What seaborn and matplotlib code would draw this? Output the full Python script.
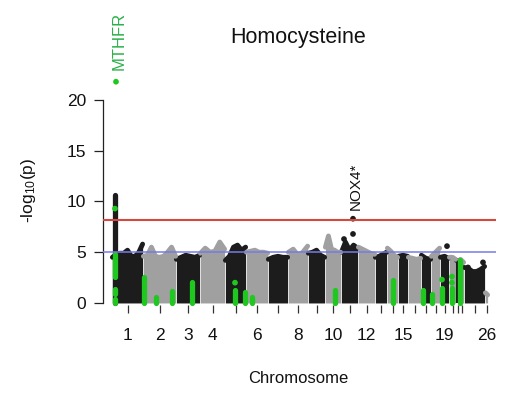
import numpy as np
import pandas as pd
import matplotlib
matplotlib.use('Agg')
import matplotlib.pyplot as plt
import seaborn as sns

# chromosomes (plink coding, 24 and 25 not present) and their relative lengths
chroms = ['1', '2', '3', '4', '5', '6', '7', '8', '9', '10', '11', '12', '13',
          '14', '15', '16', '17', '18', '19', '20', '21', '22', '23', '26']
chrom_len = [31, 33, 24, 25, 21, 22, 20, 20, 17, 16, 17, 17, 12,
             11, 10, 13, 10, 9, 9, 7, 4, 4, 21, 3]
shown_labels = ['1', '2', '3', '4', '6', '8', '10', '12', '15', '19', '26']

# upper edge of the dense SNP cloud, -log10(p), spread evenly along each chromosome
cloud_top = [
    [4.5, 4.8, 4.9, 4.9, 5.2, 4.6, 4.6, 5.0, 5.8],   # 1
    [4.6, 4.7, 5.5, 4.6, 4.5, 4.6, 5.0, 5.5, 4.6],   # 2
    [4.3, 4.5, 4.7, 4.6, 4.5, 4.7],                  # 3
    [4.9, 5.4, 5.0, 5.1, 6.0, 5.3],                  # 4
    [4.2, 4.6, 5.5, 5.7, 5.2, 5.5],                  # 5
    [5.0, 5.1, 5.2, 5.0, 5.0, 4.9],                  # 6
    [4.3, 4.5, 4.6, 4.5, 4.5],                       # 7
    [5.0, 5.3, 4.7, 5.0, 5.6],                       # 8
    [4.9, 5.0, 5.2, 4.7, 4.5],                       # 9
    [5.5, 6.6, 5.3, 5.2, 5.0, 5.0],                  # 10
    [5.0, 6.0, 5.2, 5.7, 5.4],                       # 11
    [5.5, 5.3, 5.1, 4.9, 4.8],                       # 12
    [4.5, 4.6, 4.8, 5.0],                            # 13
    [5.4, 5.1, 4.7, 4.5],                            # 14
    [4.6, 4.7, 4.6],                                 # 15
    [4.5, 4.4, 4.3, 4.4],                            # 16
    [4.7, 4.4, 4.3],                                 # 17
    [4.6, 5.0, 5.4],                                 # 18
    [4.5, 4.6, 4.4],                                 # 19
    [4.5, 4.5, 4.3],                                 # 20
    [4.2, 4.2],                                      # 21
    [4.3, 4.0],                                      # 22
    [3.5, 3.4, 3.1, 3.1, 3.3, 3.6],                  # 23
    [1.0, 0.8],                                      # 26
]

# stacked columns of SNPs (chromosome, offset in chromosome, from, to)
col_chr = ['1', '1', '1', '1', '2', '2', '2', '3', '5', '5', '6', '10', '14', '17', '18', '19', '20', '22']
col_off = [3, 3, 3, 3, 0.5, 13, 29, 16, 10, 20, 6, 10, 6, 2, 0.5, 2, 3, 0.2]
col_lo = [0.0, 2.6, 0.9, 0.0, 0, 0, 0, 0, 0, 0, 0, 0, 0, 0, 0, 0, 0, 0]
col_hi = [10.6, 4.8, 1.4, 0.4, 2.6, 0.6, 1.2, 2.1, 1.3, 1.1, 0.6, 1.3, 2.3, 1.3, 0.9, 1.5, 1.5, 4.2]
col_known = [False] + [True] * 17

# single SNPs standing out
dot_chr = ['1', '1', '5', '19', '20', '20', '11', '11', '11', '19', '23', '23']
dot_off = [4, 3, 10, 2, 3, 3, 3, 12, 12, 7, 4, 19]
dot_logp = [21.8, 9.3, 2.0, 2.3, 2.0, 2.6, 6.3, 6.8, 8.3, 5.6, 3.5, 4.0]
dot_known = [True] * 6 + [False] * 6

gene_labels = ['MTHFR', 'NOX4*']
gene_chr = ['1', '11']
gene_off = [4, 12]
gene_logp = [21.8, 8.3]

genome_wide = 8.2
suggestive = 5.0

sns.set_theme(style='ticks')
plt.rcParams['font.family'] = ['Liberation Sans', 'DejaVu Sans']
plt.rcParams['mathtext.default'] = 'regular'
plt.rcParams['text.color'] = '#111111'
plt.rcParams['xtick.labelcolor'] = '#111111'
plt.rcParams['ytick.labelcolor'] = '#111111'

dark, light, green = '#1c1c1c', '#a0a0a0', '#1fc81f'

chrom_start = np.concatenate([[0], np.cumsum(chrom_len)[:-1]])
start = dict(zip(chroms, chrom_start))
mids = chrom_start + np.array(chrom_len) / 2

rows = []
for i, c in enumerate(chroms):
    tops = cloud_top[i]
    xs = np.linspace(chrom_start[i] + 0.4, chrom_start[i] + chrom_len[i] - 0.4, len(tops))
    for x, t in zip(xs, tops):
        rows.append((c, x, t, 'odd' if i % 2 == 0 else 'even'))
cloud = pd.DataFrame(rows, columns=['chrom', 'pos', 'logp', 'band'])

cols = pd.DataFrame({'pos': [start[c] + o for c, o in zip(col_chr, col_off)],
                     'lo': col_lo, 'hi': col_hi, 'known': col_known})
dots = pd.DataFrame({'pos': [start[c] + o for c, o in zip(dot_chr, dot_off)],
                     'logp': dot_logp, 'known': dot_known})

fig = plt.figure(figsize=(5.22, 3.94), dpi=100)
ax = fig.add_axes([103 / 522, (394 - 311.8) / 394, 393 / 522, 238.2 / 394])

for i, c in enumerate(chroms):
    d = cloud[cloud.chrom == c]
    ax.fill_between(d.pos, 0, d.logp, color=dark if i % 2 == 0 else light, lw=0, zorder=1)
sns.lineplot(data=cloud, x='pos', y='logp', units='chrom', estimator=None, hue='band',
             palette={'odd': dark, 'even': light}, sort=False, legend=False,
             lw=3.5, solid_capstyle='round', solid_joinstyle='round', ax=ax, zorder=2)

for known, zo in [(False, 3), (True, 4)]:
    d = cols[cols.known == known]
    ax.vlines(d.pos, d.lo, d.hi, colors=green if known else dark, lw=3.8,
              capstyle='round', zorder=zo)

sns.scatterplot(data=dots, x='pos', y='logp', hue='known', palette={True: green, False: dark},
                s=17, linewidth=0, legend=False, ax=ax, zorder=5)

ax.axhline(genome_wide, color='#d8473f', lw=1.5, zorder=6)
ax.axhline(suggestive, color='#7a7ae6', lw=1.1, zorder=6)

for lab, c, o, v in zip(gene_labels, gene_chr, gene_off, gene_logp):
    ax.annotate(lab, (start[c] + o, v), xytext=(2, 8.5 if lab == 'MTHFR' else 6.5),
                textcoords='offset points', rotation=90, ha='center', va='bottom',
                fontsize=12 if lab == 'MTHFR' else 11,
                color='#2bb04a' if lab == 'MTHFR' else '#111111')

ax.set_xlim(-9, 384)
ax.set_ylim(-0.87, 22.6)
ax.set_xticks(mids)
ax.set_xticklabels([c if c in shown_labels else '' for c in chroms])
ax.set_yticks([0, 5, 10, 15, 20])
ax.set_xlabel('')
ax.set_ylabel('')
sns.despine(ax=ax, top=True, right=True)
ax.spines['left'].set_bounds(0, 20)
ax.spines['left'].set_color('#222222')
ax.spines['left'].set_linewidth(0.9)
ax.spines['bottom'].set_position(('data', -0.2))
ax.spines['bottom'].set_color('none')
ax.tick_params(axis='y', length=6.5, width=0.9, pad=5.5, labelsize=12.5, color='#222222')
ax.tick_params(axis='x', length=5.8, width=0.9, pad=11, labelsize=12.5, color='#333333')
ax.patch.set_alpha(0)

fig.text(298.5 / 522, 1 - 43.3 / 394, 'Homocysteine', ha='center', va='baseline', fontsize=15.5)
fig.text(298.5 / 522, 1 - 383 / 394, 'Chromosome', ha='center', va='baseline', fontsize=12)
fig.text(29 / 522, 1 - 190 / 394, '-log$_{10}$(p)', ha='center', va='center', rotation=90, fontsize=12.5)

fig.savefig('out.png', dpi=100, facecolor='white')
